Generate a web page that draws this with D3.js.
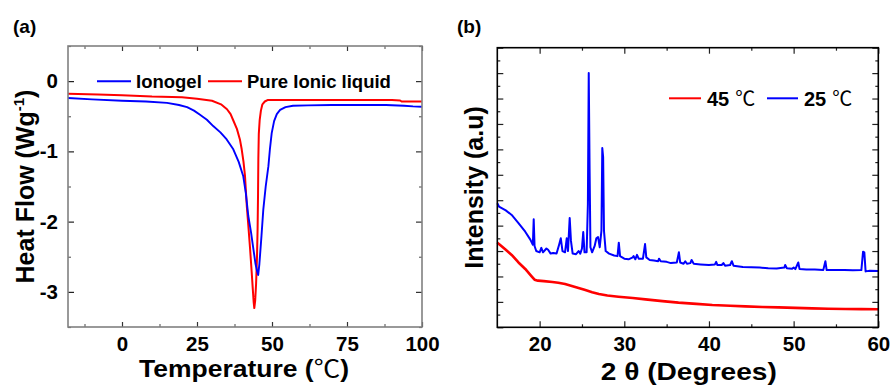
<!DOCTYPE html>
<html><head><meta charset="utf-8">
<script src="https://cdn.jsdelivr.net/npm/d3@7/dist/d3.min.js"></script>
<style>
html,body{margin:0;padding:0;background:#fff;}
svg{display:block;}
text{font-family:"Liberation Sans",Arial,"Noto Sans CJK SC",sans-serif;font-weight:bold;fill:#000;}
</style></head>
<body><svg id="c" width="894" height="388"></svg>
<script>
// ---------- Panel (a): DSC ----------
const dscTicksX = [0, 25, 50, 75, 100];
const dscTicksY = [0, -1, -2, -3];
const dscLegend = ["Ionogel", "Pure Ionic liquid"];
// [Temperature (°C), Heat flow (W/g)]
const ionogel = [
  [-18,-0.24],[-10,-0.26],[0,-0.28],[8,-0.29],[15,-0.31],[19,-0.34],[21.7,-0.37],[24,-0.42],[26,-0.48],
  [28.3,-0.55],[30.4,-0.64],[32.8,-0.73],[34.9,-0.83],[37.1,-0.97],[38.9,-1.15],[40.4,-1.35],
  [41.3,-1.6],[42.1,-1.92],[43,-2.15],[43.8,-2.39],[44.5,-2.6],[45.0,-2.7],[45.4,-2.76],
  [45.8,-2.6],[46.5,-2.2],[47.1,-1.83],[47.9,-1.5],[48.8,-1.21],[49.3,-0.97],[49.9,-0.74],
  [50.7,-0.57],[51.6,-0.47],[52.7,-0.41],[54.5,-0.37],[57,-0.35],[62,-0.345],[70,-0.34],
  [80,-0.34],[88,-0.34],[94,-0.35],[97,-0.36],[100,-0.365]
];
const pureIL = [
  [-18,-0.18],[-8,-0.19],[0,-0.2],[10,-0.22],[20,-0.23],[25,-0.25],[30,-0.28],[33,-0.33],
  [35,-0.4],[36.2,-0.47],[37,-0.55],[38.3,-0.68],[39.3,-0.83],[39.9,-0.97],[40.5,-1.15],
  [41,-1.35],[41.6,-1.78],[42.1,-2.05],[42.7,-2.39],[43.2,-2.7],[43.6,-2.96],[43.9,-3.15],
  [44.1,-3.23],[44.4,-3.12],[44.7,-2.88],[45.0,-2.5],[45.2,-2.1],[45.35,-1.6],[45.45,-1.1],
  [45.6,-0.75],[45.9,-0.55],[46.3,-0.42],[46.8,-0.33],[47.6,-0.29],[48.5,-0.27],[60,-0.27],
  [75,-0.27],[90,-0.27],[92.7,-0.275],[93.2,-0.29],[100,-0.29]
];

// ---------- Panel (b): XRD ----------
const xrdTicksX = [20, 30, 40, 50, 60];
const xrdLegend = ["45 \u2103", "25 \u2103"];
// [2θ (deg), intensity (a.u.)]
const xrd45 = [
  [15,6.66],[15.3,6.5],[16,6.1],[16.7,5.69],[17.5,5.1],[18.3,4.59],[19.0,4.05],[19.4,3.75],
  [19.8,3.67],[20.5,3.63],[21.5,3.57],[22.2,3.51],[23.0,3.4],[23.8,3.25],[24.6,3.1],[25.4,2.93],
  [26.2,2.76],[27.0,2.62],[28.0,2.5],[29.3,2.41],[31.0,2.3],[32.5,2.2],[34.5,2.06],[36.4,1.94],
  [38.5,1.84],[40.4,1.75],[42.5,1.69],[44.3,1.65],[46.3,1.6],[48.2,1.57],[50.2,1.53],[52.2,1.49],
  [54.1,1.46],[56.1,1.44],[58,1.43],[60,1.42]
];
const xrd25 = [
  [15,9.76],[15.2,9.5],[16,9.2],[16.7,8.84],[17.5,8.2],[18.3,7.52],[18.9,6.9],[19.2,6.5],[19.3,8.5],
  [19.4,6.4],[19.6,6.0],[20.0,5.9],[20.2,6.25],[20.4,5.9],[20.8,6.2],[21.0,6.1],[21.3,5.8],
  [21.6,5.85],[22.0,5.8],[22.3,6.5],[22.5,7.0],[22.7,6.0],[23.0,5.9],[23.2,7.0],[23.35,6.0],
  [23.55,8.6],[23.7,6.8],[23.9,5.8],[24.3,5.75],[24.6,6.0],[24.8,5.8],[25.0,6.2],[25.15,7.5],
  [25.3,5.9],[25.55,5.9],[25.7,9.7],[25.8,20.0],[25.9,12.45],[26.0,6.3],[26.2,5.9],[26.5,6.4],
  [26.7,7.0],[26.9,7.1],[27.1,6.3],[27.3,7.6],[27.4,14.1],[27.5,13.4],[27.6,7.6],[27.8,6.0],
  [28.2,5.8],[28.8,5.65],[29.2,5.6],[29.35,6.66],[29.5,5.6],[30.0,5.4],[30.5,5.35],[31.0,5.5],
  [31.1,5.6],[31.3,5.35],[31.5,5.7],[31.7,5.4],[32.2,5.4],[32.45,6.55],[32.6,5.5],[33.0,5.3],
  [33.5,5.25],[34.0,5.2],[34.1,5.4],[34.3,5.2],[35.0,5.15],[35.5,5.05],[36.2,5.1],[36.45,5.9],
  [36.6,5.1],[37.0,5.0],[37.2,5.2],[37.4,5.0],[37.8,5.05],[37.95,5.3],[38.2,5.0],[39.0,4.95],
  [40.0,4.9],[40.7,4.95],[40.85,5.15],[41.0,4.9],[41.5,4.9],[41.7,5.05],[41.9,4.85],[42.5,4.9],
  [42.7,5.2],[42.9,4.85],[44.0,4.75],[45.0,4.72],[46.0,4.7],[47.0,4.65],[48.0,4.62],[48.9,4.7],
  [49.0,4.9],[49.2,4.65],[49.8,4.6],[50.0,4.7],[50.2,4.58],[50.55,5.1],[50.7,4.58],[51.5,4.55],
  [52.5,4.55],[53.5,4.5],[53.75,5.2],[53.9,4.5],[55.0,4.51],[56.0,4.5],[57.0,4.48],[58.0,4.5],
  [58.2,5.95],[58.35,5.9],[58.5,4.4],[59.0,4.45],[60.0,4.43]
];

const svg = d3.select("#c");
const FONT_TICK = 20.5;

function ticksGroup(g, axisGen, transform, color){
  const a = g.append("g").attr("transform",transform).call(axisGen);
  a.select(".domain").remove();
  a.selectAll("line").attr("stroke",color).attr("stroke-width",1.2);
  return a;
}
function styleLabels(a){
  a.selectAll("text").attr("font-size",FONT_TICK).attr("font-weight","bold")
   .attr("font-family",'"Liberation Sans",Arial,sans-serif').attr("fill","#000");
}

// =============== Panel (a) ===============
const A = {l:68, r:422, t:46, b:327};
const xa = d3.scaleLinear().domain([-18,100]).range([A.l,A.r]);
const ya = d3.scaleLinear().domain([-3.5,0.5]).range([A.b,A.t]);
const ga = svg.append("g");

const aMinX = d3.range(-12.5,100,12.5).filter(v=>!dscTicksX.includes(v));
const aMinY = [-3.5,-2.5,-1.5,-0.5,0.5];
[[d3.axisBottom(xa).tickValues(aMinX).tickSize(-3).tickFormat(""),`translate(0,${A.b})`],
 [d3.axisTop(xa).tickValues(aMinX).tickSize(-3).tickFormat(""),`translate(0,${A.t})`],
 [d3.axisLeft(ya).tickValues(aMinY).tickSize(-3).tickFormat(""),`translate(${A.l},0)`],
 [d3.axisRight(ya).tickValues(aMinY).tickSize(-3).tickFormat(""),`translate(${A.r},0)`]
].forEach(([ax,tr])=>ticksGroup(ga,ax,tr,"#666"));
const axA_b = ticksGroup(ga,d3.axisBottom(xa).tickValues(dscTicksX).tickSize(-5).tickPadding(10).tickFormat(d3.format("d")),`translate(0,${A.b})`,"#333");
ticksGroup(ga,d3.axisTop(xa).tickValues(dscTicksX).tickSize(-5).tickFormat(""),`translate(0,${A.t})`,"#333");
const axA_l = ticksGroup(ga,d3.axisLeft(ya).tickValues(dscTicksY).tickSize(-6).tickPadding(10).tickFormat(d=>d===0?"0":String(d).replace("\u2212","-")),`translate(${A.l},0)`,"#222");
ticksGroup(ga,d3.axisRight(ya).tickValues(dscTicksY).tickSize(-6).tickFormat(""),`translate(${A.r},0)`,"#333");
styleLabels(axA_b); styleLabels(axA_l);
axA_b.selectAll("text").attr("y",null).attr("dy",null).attr("y",24);

const lineA = d3.line().x(d=>xa(d[0])).y(d=>ya(d[1]));
ga.append("path").datum(pureIL).attr("d",lineA).attr("fill","none").attr("stroke","#ff0000").attr("stroke-width",2).attr("stroke-linejoin","round");
ga.append("path").datum(ionogel).attr("d",lineA).attr("fill","none").attr("stroke","#0000ff").attr("stroke-width",1.9).attr("stroke-linejoin","round");

ga.append("rect").attr("x",A.l).attr("y",A.t).attr("width",A.r-A.l).attr("height",A.b-A.t)
  .attr("fill","none").attr("stroke","#808080").attr("stroke-width",1.6);

const legA = [{c:"#0000ff",x1:97,x2:131,tx:136,label:dscLegend[0]},{c:"#ff0000",x1:208,x2:242,tx:247,label:dscLegend[1]}];
legA.forEach(d=>{
  ga.append("line").attr("x1",d.x1).attr("x2",d.x2).attr("y1",ya(0)).attr("y2",ya(0)).attr("stroke",d.c).attr("stroke-width",2);
  ga.append("text").attr("x",d.tx).attr("y",ya(0)).attr("dy","0.36em").attr("font-size",18.5).text(d.label);
});
ga.append("text").attr("x",13).attr("y",33).attr("font-size",19).text("(a)");
const tt = ga.append("text").attr("x",(A.l+A.r)/2-1).attr("y",377).attr("text-anchor","middle").attr("font-size",23.5)
  .attr("textLength",210).attr("lengthAdjust","spacingAndGlyphs");
tt.append("tspan").text("Temperature (");
tt.append("tspan").attr("font-weight","normal").text("\u2103");
tt.append("tspan").text(")");
const hf = ga.append("text").attr("transform",`translate(34,${(A.t+A.b)/2}) rotate(-90)`).attr("text-anchor","middle").attr("font-size",25);
hf.append("tspan").text("Heat Flow (Wg");
hf.append("tspan").attr("font-size",15).attr("dy",-10).text("-1");
hf.append("tspan").attr("dy",10).text(")");

// =============== Panel (b) ===============
const B = {l:497.3, r:878.3, t:47.7, b:327.3};
const xb = d3.scaleLinear().domain([15,60]).range([B.l,B.r]);
const yb = d3.scaleLinear().domain([0,22]).range([B.b,B.t]);
const gb = svg.append("g");
const bMajY = d3.range(0,23,2), bMinY = d3.range(1,22,2);
const bMinX = [25,35,45,55];
[[d3.axisBottom(xb).tickValues(bMinX).tickSize(-3).tickFormat(""),`translate(0,${B.b})`],
 [d3.axisTop(xb).tickValues(bMinX).tickSize(-3).tickFormat(""),`translate(0,${B.t})`],
 [d3.axisLeft(yb).tickValues(bMinY).tickSize(-3).tickFormat(""),`translate(${B.l},0)`],
 [d3.axisRight(yb).tickValues(bMinY).tickSize(-3).tickFormat(""),`translate(${B.r},0)`],
 [d3.axisTop(xb).tickValues(xrdTicksX).tickSize(-6).tickFormat(""),`translate(0,${B.t})`],
 [d3.axisLeft(yb).tickValues(bMajY).tickSize(-6).tickFormat(""),`translate(${B.l},0)`],
 [d3.axisRight(yb).tickValues(bMajY).tickSize(-6).tickFormat(""),`translate(${B.r},0)`]
].forEach(([ax,tr])=>ticksGroup(gb,ax,tr,"#222"));
const axB_b = ticksGroup(gb,d3.axisBottom(xb).tickValues(xrdTicksX).tickSize(-6).tickPadding(10).tickFormat(d3.format("d")),`translate(0,${B.b})`,"#222");
styleLabels(axB_b);
axB_b.selectAll("text").attr("dy",null).attr("y",24);

const lineB = d3.line().x(d=>xb(d[0])).y(d=>yb(d[1]));
gb.append("path").datum(xrd45).attr("d",lineB).attr("fill","none").attr("stroke","#ff0000").attr("stroke-width",2.6).attr("stroke-linejoin","round");
gb.append("path").datum(xrd25).attr("d",lineB).attr("fill","none").attr("stroke","#0000ff").attr("stroke-width",2).attr("stroke-linejoin","round");

gb.append("rect").attr("x",B.l).attr("y",B.t).attr("width",B.r-B.l).attr("height",B.b-B.t)
  .attr("fill","none").attr("stroke","#000").attr("stroke-width",1.6);

const legB = [{c:"#ff0000",x1:669,x2:701,tx:707,label:xrdLegend[0]},{c:"#0000ff",x1:767,x2:798,tx:804,label:xrdLegend[1]}];
legB.forEach(d=>{
  const ly = 98.3;
  gb.append("line").attr("x1",d.x1).attr("x2",d.x2).attr("y1",ly).attr("y2",ly).attr("stroke",d.c).attr("stroke-width",2);
  const parts = d.label.split(" ");
  const t = gb.append("text").attr("x",d.tx).attr("y",ly).attr("dy","0.36em").attr("font-size",20);
  t.append("tspan").text(parts[0]);
  t.append("tspan").attr("font-weight","normal").attr("dx",6).text(parts[1]);
});
gb.append("text").attr("x",457).attr("y",33).attr("font-size",19).text("(b)");
gb.append("text").attr("x",(B.l+B.r)/2+1).attr("y",380).attr("text-anchor","middle").attr("font-size",24)
  .attr("textLength",176).attr("lengthAdjust","spacingAndGlyphs")
  .text("2 \u03b8 (Degrees)");
gb.append("text").attr("transform",`translate(483,${(B.t+B.b)/2}) rotate(-90)`).attr("text-anchor","middle").attr("font-size",25)
  .text("Intensity (a.u)");
</script></body></html>
